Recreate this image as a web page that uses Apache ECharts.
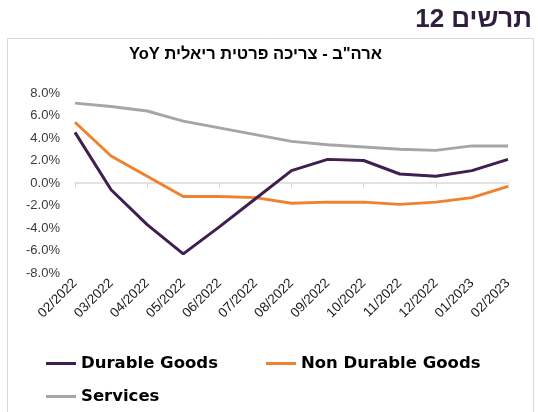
<!DOCTYPE html>
<html><head><meta charset="utf-8">
<script src="https://cdn.jsdelivr.net/npm/echarts@6/dist/echarts.min.js"></script>
<style>html,body{margin:0;padding:0;background:#fff}#c{width:538px;height:412px}</style>
</head><body><div id="c"></div>
<script>
const categories = ['02/2022','03/2022','04/2022','05/2022','06/2022','07/2022','08/2022','09/2022','10/2022','11/2022','12/2022','01/2023','02/2023'];
const durableGoods = [4.5, -0.6, -3.7, -6.3, -3.9, -1.4, 1.1, 2.1, 2.0, 0.8, 0.6, 1.1, 2.1];
const nonDurableGoods = [5.4, 2.4, 0.6, -1.2, -1.2, -1.3, -1.8, -1.7, -1.7, -1.9, -1.7, -1.3, -0.3];
const services = [7.1, 6.8, 6.4, 5.5, 4.9, 4.3, 3.7, 3.4, 3.2, 3.0, 2.9, 3.3, 3.3];
const seriesNames = ['Durable Goods', 'Non Durable Goods', 'Services'];
const chartTitle = 'ארה"ב - צריכה פרטית ריאלית YoY';
const figureTitle = 'תרשים 12';

const rtl = s => '\u202B' + s + '\u202C';
const chart = echarts.init(document.getElementById('c'), null, {renderer: 'canvas'});
const colors = ['#3f1f4f', '#f0822f', '#a6a6a6'];
const legendText = {fontFamily: 'DejaVu Sans', fontWeight: 'bold', fontSize: 16.5, color: '#000'};
chart.setOption({
  animation: false,
  title: [
    {text: rtl(figureTitle), right: 6, top: 7, padding: 0, textStyle: {fontFamily: 'Liberation Sans', fontWeight: 'bold', fontSize: 26, color: '#2e1f3f'}},
    {text: rtl(chartTitle), left: 129, top: 46, padding: 0, textStyle: {fontFamily: 'Liberation Sans', fontWeight: 'bold', fontSize: 16.5, color: '#000'}}
  ],
  graphic: [{type: 'rect', shape: {x: 7.5, y: 38.5, width: 526, height: 380}, style: {fill: 'none', stroke: '#d9d9d9', lineWidth: 1}, z: -1}],
  legend: [
    {data: [seriesNames[0], seriesNames[1]], left: 46, top: 355, padding: 0, itemWidth: 30, itemHeight: 3, itemGap: 48, icon: 'rect', textStyle: legendText},
    {data: [seriesNames[2]], left: 46, top: 388, padding: 0, itemWidth: 30, itemHeight: 3, icon: 'rect', textStyle: legendText}
  ],
  grid: {left: 75, right: 30, top: 93, bottom: 139},
  xAxis: [
    {type: 'category', data: categories, boundaryGap: false,
     axisLine: {onZero: true, lineStyle: {color: '#d9d9d9', width: 1.5}},
     axisTick: {show: true, length: 5, lineStyle: {color: '#d9d9d9'}},
     axisLabel: {show: false}},
    {type: 'category', data: categories, boundaryGap: false, position: 'bottom',
     axisLine: {show: false, onZero: false}, axisTick: {show: false},
     axisLabel: {rotate: 45, margin: 8, fontFamily: 'Liberation Sans', fontSize: 13.5, color: '#1a1a1a', interval: 0}}
  ],
  yAxis: {type: 'value', min: -8, max: 8, interval: 2,
    axisLine: {show: false}, axisTick: {show: false}, splitLine: {show: false},
    axisLabel: {formatter: v => v.toFixed(1) + '%', fontFamily: 'Liberation Sans', fontSize: 13, color: '#3a3a3a', margin: 15}},
  series: [
    {name: seriesNames[0], type: 'line', data: durableGoods, symbol: 'none', lineStyle: {width: 3, color: colors[0]}, itemStyle: {color: colors[0]}, z: 3},
    {name: seriesNames[1], type: 'line', data: nonDurableGoods, symbol: 'none', lineStyle: {width: 3, color: colors[1]}, itemStyle: {color: colors[1]}, z: 2},
    {name: seriesNames[2], type: 'line', data: services, symbol: 'none', lineStyle: {width: 3, color: colors[2]}, itemStyle: {color: colors[2]}, z: 1}
  ]
});
</script></body></html>
